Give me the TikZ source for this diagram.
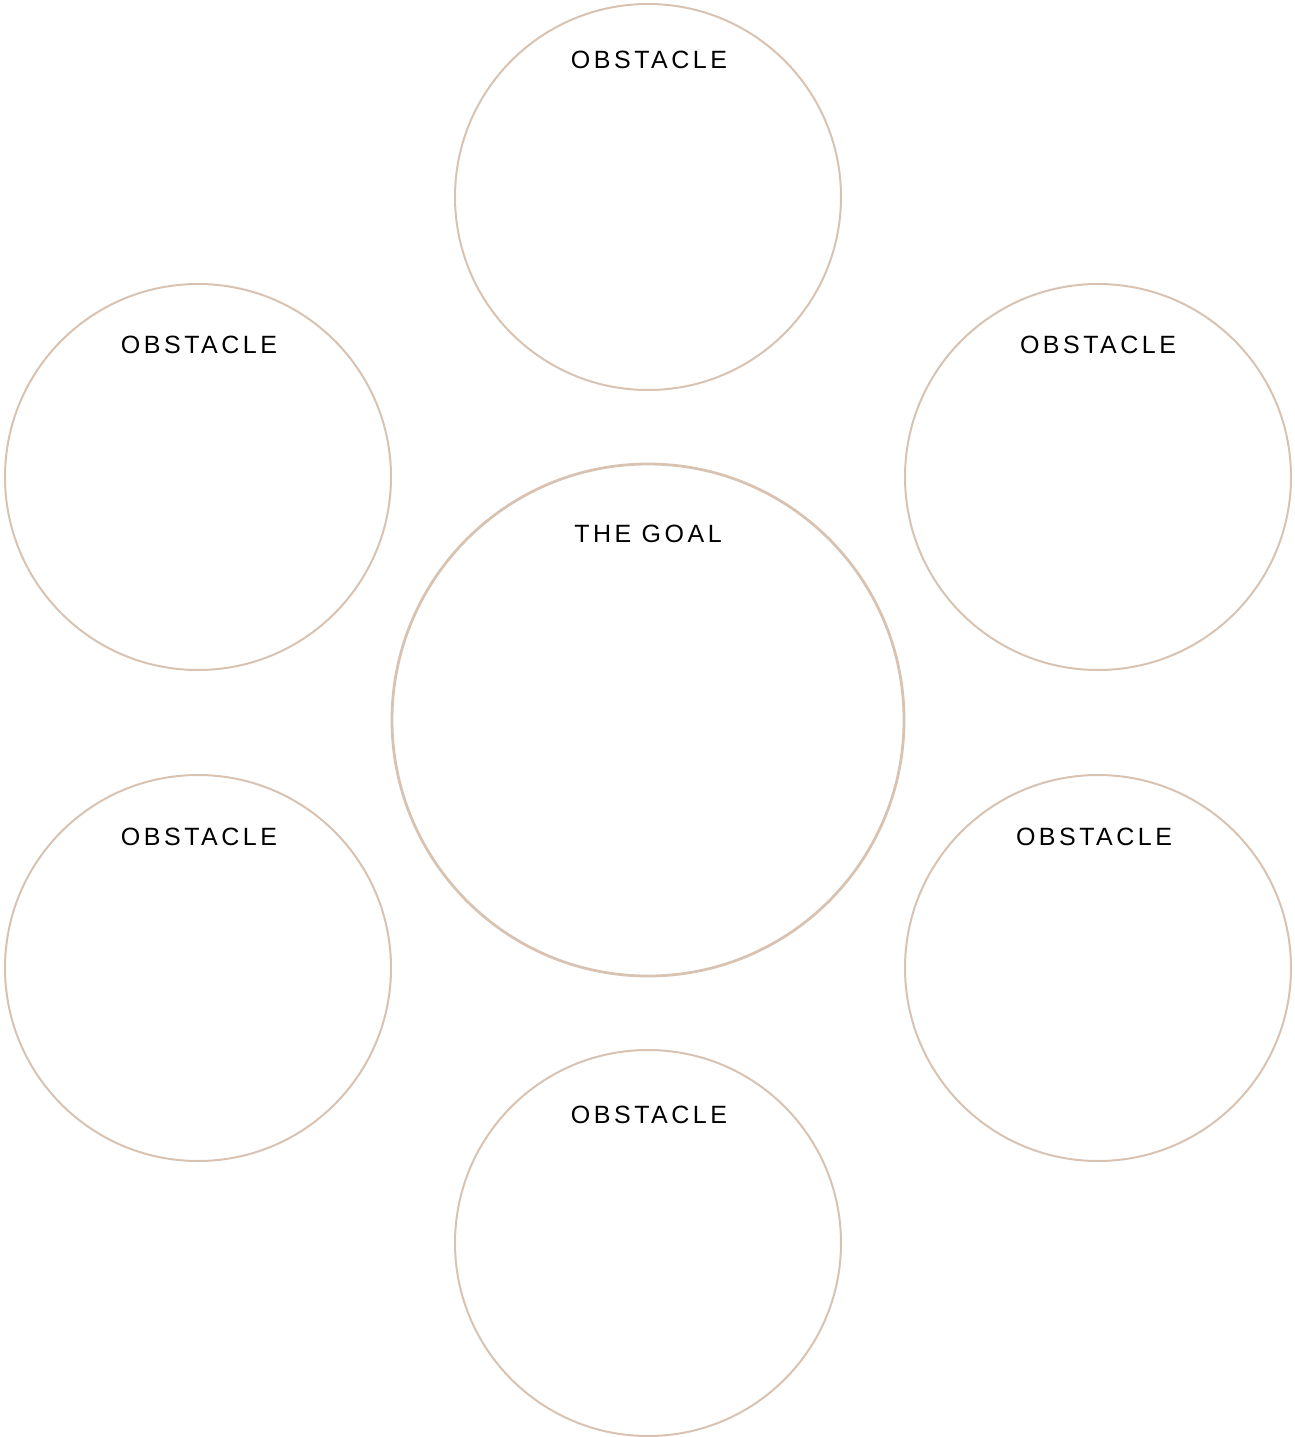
\documentclass[tikz,border=0pt]{standalone}
\usepackage{fontspec}
\setmainfont{Liberation Sans}[LetterSpace=14]
\definecolor{ring}{HTML}{D8C3B3}
\begin{document}
\begin{tikzpicture}[x=1pt,y=-1pt,
  obst/.style={circle,draw=ring,line width=2pt,minimum size=386pt,inner sep=0pt},
  goal/.style={circle,draw=ring,line width=2.8pt,minimum size=512pt,inner sep=0pt},
  lbl/.style={anchor=base,inner sep=0pt,font=\fontsize{25pt}{30pt}\selectfont,text=black}]
\useasboundingbox (0,0) rectangle (1295,1437);
\node[obst] (ot) at (648,197) {};
\node[obst] (olt) at (198,477) {};
\node[obst] (ort) at (1098,477) {};
\node[goal] (g) at (648,720) {};
\node[obst] (olb) at (198,968) {};
\node[obst] (orb) at (1098,968) {};
\node[obst] (ob) at (648,1243) {};
\node[lbl] (tt) at (649,69) {OBSTACLE};
\node[lbl] (tlt) at (199,353) {OBSTACLE};
\node[lbl] (trt) at (1098,353) {OBSTACLE};
\node[lbl] (tg) at (648,542) {THE GOAL};
\node[lbl] (tlb) at (199,845) {OBSTACLE};
\node[lbl] (trb) at (1094,845) {OBSTACLE};
\node[lbl] (tb) at (649,1123) {OBSTACLE};
\end{tikzpicture}
\end{document}
